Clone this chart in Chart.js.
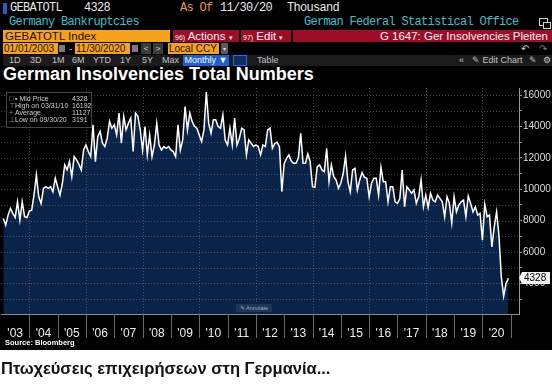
<!DOCTYPE html>
<html>
<head>
<meta charset="utf-8">
<script src="https://cdn.jsdelivr.net/npm/chart.js@4.4.0/dist/chart.umd.min.js"></script>
<style>
html, body { margin: 0; padding: 0; }
body { width: 552px; height: 387px; background: #fff; position: relative; overflow: hidden; font-family: "Liberation Sans", Arial, sans-serif; }
#term { position: absolute; left: 0; top: 0; width: 552px; height: 350px; background: #000; }
.a { position: absolute; white-space: nowrap; }
.mono { font-family: "Liberation Mono", "DejaVu Sans Mono", monospace; font-size: 12px; letter-spacing: -0.7px; line-height: 14px; }
.bar { font-size: 11.5px; line-height: 12px; height: 12px; }
.org { background: #f7a21b; color: #1a1000; }
.red { background: #9e0d28; color: #f2f2f2; }
.btn { font-size: 9px; line-height: 11px; color: #c4c4c4; top: 55px; }
.lg { font-size: 7px; line-height: 7px; color: #cfcfcf; }
#c { position: absolute; left: 0; top: 84px; }
</style>
</head>
<body>
<div id="term">
  <!-- row 1 -->
  <div class="a" style="left:3px;top:3px;width:4px;height:11px;background:#2d5cc6"></div>
  <div class="a mono" style="left:10px;top:1px;color:#e8e8e8">GEBATOTL</div>
  <div class="a mono" style="left:84px;top:1px;color:#e8e8e8">4328</div>
  <div class="a mono" style="left:180px;top:1px;color:#ee9b2c">As Of</div>
  <div class="a mono" style="left:220px;top:1px;color:#e8e8e8">11/30/20</div>
  <div class="a mono" style="left:287px;top:1px;color:#e8e8e8">Thousand</div>
  <!-- row 2 -->
  <div class="a mono" style="left:9px;top:15px;color:#35c2cf">Germany Bankruptcies</div>
  <div class="a mono" style="left:304px;top:15px;color:#35c2cf">German Federal Statistical Office</div>
  <div class="a" style="left:539px;top:18px;width:7px;height:6px;border:1px solid #cfcfcf"></div>
  <div class="a" style="left:543px;top:22px;width:6px;height:5px;border:1px solid #cfcfcf;background:#000"></div>
  <!-- row 3 -->
  <div class="a bar org" style="left:3px;top:30px;width:165px;padding-left:2px">GEBATOTL Index</div>
  <div class="a bar red" style="left:173px;top:30px;width:64px;padding-left:2px"><span style="font-size:7px">96)</span> Actions <span style="font-size:7px">&#9662;</span></div>
  <div class="a bar red" style="left:241px;top:30px;width:48px;padding-left:2px"><span style="font-size:7px">97)</span> Edit <span style="font-size:7px">&#9662;</span></div>
  <div class="a bar red" style="left:293px;top:30px;width:255px;padding-right:4px;text-align:right">G 1647: Ger Insolvencies Pleiten</div>
  <!-- row 4 -->
  <div class="a bar org" style="left:3px;top:43px;width:54px;height:11px;padding-left:1px;font-size:10px">01/01/2003</div>
  <div class="a" style="left:59px;top:45px;width:6px;height:7px;background:#7a7a7a"></div>
  <div class="a bar" style="left:69px;top:43px;color:#f7a21b;font-size:10px">-</div>
  <div class="a bar org" style="left:75px;top:43px;width:54px;height:11px;padding-left:1px;font-size:10px">11/30/2020</div>
  <div class="a" style="left:132px;top:45px;width:6px;height:7px;background:#7a7a7a"></div>
  <div class="a bar" style="left:141px;top:43px;width:10px;height:11px;background:#3a3a3a;color:#ddd;font-size:8px;text-align:center">&lt;</div>
  <div class="a bar" style="left:153px;top:43px;width:10px;height:11px;background:#3a3a3a;color:#ddd;font-size:8px;text-align:center">&gt;</div>
  <div class="a bar org" style="left:168px;top:43px;width:50px;height:11px;padding-left:1px;font-size:10px">Local CCY</div>
  <div class="a bar" style="left:221px;top:43px;width:7px;height:11px;background:#5a5a5a;color:#ddd;font-size:6px;text-align:center">&#9662;</div>
  <div class="a bar" style="left:521px;top:43px;color:#cfcfcf;font-size:10px">&#8630;</div>
  <div class="a bar" style="left:539px;top:43px;color:#777;font-size:10px">&#8631;</div>
  <!-- row 5 -->
  <div class="a" style="left:3px;top:55px;width:549px;height:11px;background:#1b1b1b"></div>
  <div class="a btn" style="left:9px">1D</div>
  <div class="a btn" style="left:30px">3D</div>
  <div class="a btn" style="left:52px">1M</div>
  <div class="a btn" style="left:72px">6M</div>
  <div class="a btn" style="left:93px">YTD</div>
  <div class="a btn" style="left:120px">1Y</div>
  <div class="a btn" style="left:142px">5Y</div>
  <div class="a btn" style="left:162px">Max</div>
  <div class="a btn" style="left:183px;width:46px;height:11px;background:#1e5fd6;color:#fff;text-align:center">Monthly &#9660;</div>
  <div class="a" style="left:233px;top:55px;width:12px;height:9px;border:1px solid #2c6be0;background:#0f2c66"></div>
  <div class="a btn" style="left:257px">Table</div>
  <div class="a btn" style="left:459px">&#171;</div>
  <div class="a btn" style="left:472px">&#9998; Edit Chart</div>
  <div class="a btn" style="left:529px">&#9998;</div>
  <div class="a btn" style="left:543px">&#9881;</div>
  <!-- title -->
  <div class="a" style="left:3px;top:64px;font-size:18px;line-height:20px;font-weight:bold;color:#fff">German Insolvencies Total Numbers</div>
</div>

<canvas id="c" width="552" height="268"></canvas>

<!-- legend box -->
<div class="a" style="left:6px;top:92px;width:84px;height:34px;border:1px solid #464646;background:rgba(0,0,0,0.8)"></div>
<div class="a lg" style="left:9px;top:95px;color:#888">&#9633;</div>
<div class="a lg" style="left:15px;top:95px">&#9642; Mid Price</div>
<div class="a lg" style="left:72px;top:95px">4328</div>
<div class="a lg" style="left:9px;top:102px;color:#888">&#8868;</div>
<div class="a lg" style="left:15px;top:102px">High on 03/31/10</div>
<div class="a lg" style="left:72px;top:102px">16192</div>
<div class="a lg" style="left:9px;top:109px;color:#888">+</div>
<div class="a lg" style="left:15px;top:109px">Average</div>
<div class="a lg" style="left:72px;top:109px">11127</div>
<div class="a lg" style="left:9px;top:116px;color:#888">&#8869;</div>
<div class="a lg" style="left:15px;top:116px">Low on 09/30/20</div>
<div class="a lg" style="left:72px;top:116px">3191</div>

<!-- annotate button -->
<div class="a" style="left:236px;top:304px;width:36px;height:8px;background:#1d3556;color:#aab;font-size:5.5px;line-height:8px;text-align:center">&#9998; Annotate</div>

<div class="a" style="left:5px;top:339px;font-size:7.5px;line-height:8px;font-weight:bold;color:#fff">Source: Bloomberg</div>
<div class="a" style="left:1px;top:359px;font-size:16.5px;font-weight:bold;color:#111">Πτωχεύσεις επιχειρήσεων στη Γερμανία...</div>

<script>
// Monthly insolvencies, Jan .. Dec of each year (2020 ends in Nov)
const yearLabels = ["'03", "'04", "'05", "'06", "'07", "'08", "'09", "'10", "'11", "'12", "'13", "'14", "'15", "'16", "'17", "'18", "'19", "'20"];
const ins2003 = [8140, 7710, 8350, 8780, 8460, 8200, 9200, 8030, 9200, 8250, 8200, 8610];
const ins2004 = [8670, 9650, 10910, 9520, 9100, 10060, 10160, 10060, 10160, 9840, 10700, 10160];
const ins2005 = [9630, 10380, 11550, 11230, 11760, 10800, 12080, 11870, 11600, 11230, 12500, 12820];
const ins2006 = [12400, 12080, 14100, 11760, 13360, 13680, 12930, 12720, 13250, 14320, 13890, 14100];
const ins2007 = [13460, 14850, 12930, 14640, 13780, 14210, 14530, 12400, 14850, 14640, 13780, 12500];
const ins2008 = [14000, 12190, 13460, 12080, 12820, 14210, 12820, 12500, 12720, 12610, 12720, 12500];
const ins2009 = [12400, 12080, 14100, 12500, 13140, 15270, 13780, 14850, 14320, 14000, 13890, 13460];
const ins2010 = [13040, 13780, 16192, 14210, 13570, 14420, 14420, 14000, 13890, 14740, 13140, 12820];
const ins2011 = [13890, 12820, 14530, 12820, 13250, 13890, 13780, 12190, 13140, 12930, 12720, 12820];
const ins2012 = [12720, 12190, 12820, 12720, 13780, 13890, 12610, 12900, 13000, 12700, 9850, 11650];
const ins2013 = [11970, 12190, 11800, 11650, 11650, 12000, 13570, 11650, 11650, 12250, 11760, 10160];
const ins2014 = [10120, 11440, 11550, 11230, 11120, 12610, 10480, 11550, 10800, 10590, 10060, 10400];
const ins2015 = [11000, 12120, 10480, 9840, 11230, 11330, 9950, 10590, 11060, 10760, 10700, 9520];
const ins2016 = [10380, 10700, 10700, 9630, 11400, 10480, 10480, 9200, 10160, 10160, 9200, 9100];
const ins2017 = [9400, 11230, 8880, 10160, 9950, 9740, 9950, 9100, 9520, 10590, 8880, 9630];
const ins2018 = [8840, 9740, 9310, 9200, 9630, 9420, 9200, 8250, 9520, 9100, 7860, 9520];
const ins2019 = [8560, 8990, 9200, 9310, 8250, 9570, 9100, 8560, 8880, 8350, 8460, 6750];
const ins2020 = [9050, 8250, 8350, 6330, 7610, 8560, 7070, 4410, 3191, 3990, 4328];
const lastValue = 4328;
const yGridValues = [3000, 4000, 5000, 6000, 7000, 8000, 9000, 10000, 11000, 12000, 13000, 14000, 15000, 16000];

const series = [ins2003, ins2004, ins2005, ins2006, ins2007, ins2008, ins2009, ins2010, ins2011,
    ins2012, ins2013, ins2014, ins2015, ins2016, ins2017, ins2018, ins2019, ins2020].flat();
// x = month count since 01/2003, point sits at month end
const points = series.map((v, i) => ({ x: i + 1, y: v }));

Chart.defaults.font.family = '"Liberation Sans", Arial, sans-serif';

const bbgPlugin = {
    id: 'bbg',
    // dotted grid drawn over the fill, under the white line
    afterDatasetDraw(chart, args) {
        if (args.index !== 1) return;
        const { ctx, chartArea: a, scales: { x, y } } = chart;
        ctx.save();
        ctx.strokeStyle = 'rgba(150,150,150,0.45)';
        ctx.lineWidth = 1;
        ctx.setLineDash([1, 2]);
        y.ticks.forEach(t => {
            const py = Math.round(y.getPixelForValue(t.value)) + 0.5;
            ctx.beginPath(); ctx.moveTo(a.left, py); ctx.lineTo(a.right, py); ctx.stroke();
        });
        for (let m = 12; m <= 204; m += 24) {
            const px = Math.round(x.getPixelForValue(m)) + 0.5;
            ctx.beginPath(); ctx.moveTo(px, a.top); ctx.lineTo(px, a.bottom); ctx.stroke();
        }
        ctx.restore();
    },
    afterDraw(chart) {
        const { ctx, chartArea: a, scales: { x, y } } = chart;
        ctx.save();
        // year separators under the plot
        ctx.strokeStyle = '#6a6a6a';
        ctx.lineWidth = 1;
        for (let k = 1; k <= yearLabels.length; k++) {
            const px = Math.round(x.getPixelForValue(k * 12)) + 0.5;
            ctx.beginPath(); ctx.moveTo(px, a.bottom); ctx.lineTo(px, a.bottom + 24); ctx.stroke();
        }
        // last value tag
        const ty = Math.round(y.getPixelForValue(lastValue));
        const bx = a.right + 3;
        ctx.fillStyle = '#f0f0f0';
        ctx.beginPath();
        ctx.moveTo(a.right, ty);
        ctx.lineTo(bx, ty - 6);
        ctx.lineTo(bx + 28, ty - 6);
        ctx.lineTo(bx + 28, ty + 6);
        ctx.lineTo(bx, ty + 6);
        ctx.closePath();
        ctx.fill();
        ctx.fillStyle = '#000';
        ctx.font = '10px "Liberation Sans", Arial';
        ctx.textBaseline = 'middle';
        ctx.fillText(String(lastValue), bx + 2, ty + 0.5);
        ctx.restore();
    }
};

new Chart(document.getElementById('c'), {
    type: 'line',
    data: {
        datasets: [
            {
                data: points,
                borderColor: '#ffffff',
                borderWidth: 1.5,
                pointRadius: 0,
                tension: 0,
                fill: false
            },
            {
                data: points,
                borderWidth: 0,
                borderColor: 'rgba(0,0,0,0)',
                backgroundColor: '#0a2449',
                pointRadius: 0,
                tension: 0,
                fill: 'start'
            }
        ]
    },
    options: {
        responsive: false,
        animation: false,
        events: [],
        layout: { padding: { top: 4, left: 1, right: 0, bottom: 0 } },
        plugins: {
            legend: { display: false },
            tooltip: { enabled: false }
        },
        scales: {
            x: {
                type: 'linear',
                min: 0,
                max: 219.5,
                afterBuildTicks: s => { s.ticks = yearLabels.map((_, k) => ({ value: k * 12 + 6 })); },
                afterFit: s => { s.height = 38; s.paddingLeft = 0; s.paddingRight = 0; },
                grid: { display: false, drawTicks: false },
                border: { display: true, color: '#8c8c8c' },
                ticks: {
                    autoSkip: false,
                    maxRotation: 0,
                    padding: 12,
                    color: '#eeeeee',
                    font: { size: 12 },
                    callback: (v, i) => yearLabels[i]
                }
            },
            y: {
                position: 'right',
                min: 2050,
                max: 16450,
                afterBuildTicks: s => { s.ticks = yGridValues.map(v => ({ value: v })); },
                afterFit: s => { s.width = 33; s.paddingTop = 0; s.paddingBottom = 0; },
                grid: { drawOnChartArea: false, tickLength: 3, tickColor: '#9a9a9a' },
                border: { color: '#9a9a9a' },
                ticks: {
                    padding: 1,
                    color: '#dddddd',
                    font: { size: 10 },
                    callback: v => (v % 2000 === 0 ? String(v) : '')
                }
            }
        }
    },
    plugins: [bbgPlugin]
});
</script>
</body>
</html>
